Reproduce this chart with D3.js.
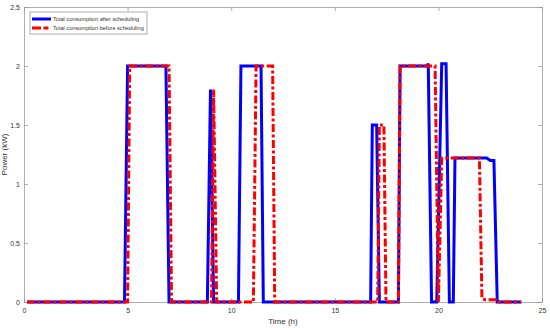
<!DOCTYPE html>
<html>
<head>
<meta charset="utf-8">
<script src="https://cdn.jsdelivr.net/npm/d3@7"></script>
<style>
  body { margin: 0; background: #fff; }
  svg { display: block; }
</style>
</head>
<body>
<div id="chart"></div>
<script>
// values (time in h, power in kW)
var timeAfter  = [0.15, 4.85, 5.0, 6.85, 7.0, 8.85, 9.0, 9.15, 10.35, 10.47, 11.44, 11.55, 16.73, 16.81, 17.02, 17.15, 18.07, 18.15, 19.45, 19.51, 19.67, 19.92, 20.16, 20.37, 20.53, 20.72, 20.8, 22.33, 22.5, 22.68, 22.84, 24.0];
var powerAfter = [0, 0, 2, 2, 0, 0, 1.8, 0, 0, 2, 2, 0, 0, 1.5, 1.5, 0, 0, 2, 2, 2.02, 0, 0, 2.02, 2.02, 0, 0, 1.22, 1.22, 1.2, 1.2, 0, 0];

var timeBefore  = [0.15, 5.0, 5.1, 7.0, 7.12, 9.05, 9.15, 9.3, 11.07, 11.2, 12.0, 12.1, 17.07, 17.15, 17.37, 17.47, 18.07, 18.15, 19.84, 20.0, 20.16, 21.98, 22.1, 22.25, 22.8, 22.9, 24.0];
var powerBefore = [0, 0, 2, 2, 0, 0, 1.8, 0, 0, 2, 2, 0, 0, 1.5, 1.5, 0, 0, 2, 2, 0, 1.22, 1.22, 0.03, 0.02, 0.02, 0, 0];

var xTicks = [0, 5, 10, 15, 20, 25];
var yTicks = [0, 0.5, 1, 1.5, 2, 2.5];

var seriesNames = ["Total consumption after scheduling", "Total consumption before scheduling"];

var width = 550, height = 328;
var plotLeft = 24, plotRight = 542, plotTop = 7, plotBottom = 302;
var axisColor = "#9a9a9a";
var textColor = "#333";

var svg = d3.select("#chart").append("svg")
    .attr("width", width)
    .attr("height", height)
    .style("font-family", "Liberation Sans, Arial, sans-serif");

var x = d3.scaleLinear().domain([0, 25]).range([plotLeft, plotRight]);
var y = d3.scaleLinear().domain([0, 2.5]).range([plotBottom, plotTop]);

//axes with inward ticks, like a boxed matlab plot
var bottomAxis = svg.append("g").attr("transform", "translate(0," + plotBottom + ")")
    .call(d3.axisBottom(x).tickValues(xTicks).tickSize(-4).tickPadding(6).tickFormat(d3.format("d")));
var topAxis = svg.append("g").attr("transform", "translate(0," + plotTop + ")")
    .call(d3.axisTop(x).tickValues(xTicks).tickSize(-4).tickFormat(""));
var leftAxis = svg.append("g").attr("transform", "translate(" + plotLeft + ",0)")
    .call(d3.axisLeft(y).tickValues(yTicks).tickSize(-4).tickPadding(4).tickFormat(function (d) { return d; }));
var rightAxis = svg.append("g").attr("transform", "translate(" + plotRight + ",0)")
    .call(d3.axisRight(y).tickValues(yTicks).tickSize(-4).tickFormat(""));

svg.selectAll(".domain").attr("stroke", axisColor).attr("stroke-width", 0.8);
svg.selectAll(".tick line").attr("stroke", axisColor).attr("stroke-width", 0.8);
svg.selectAll(".tick text").attr("fill", textColor).attr("font-size", "7px")
    .attr("font-family", "Liberation Sans, Arial, sans-serif");

//axis titles
svg.append("text")
    .attr("x", (plotLeft + plotRight) / 2)
    .attr("y", 324)
    .attr("text-anchor", "middle")
    .attr("font-size", "8px")
    .attr("fill", textColor)
    .text("Time (h)");

svg.append("text")
    .attr("transform", "translate(7," + (plotTop + plotBottom) / 2 + ") rotate(-90)")
    .attr("text-anchor", "middle")
    .attr("font-size", "8px")
    .attr("fill", textColor)
    .text("Power (kW)");

//the two lines
var line = d3.line()
    .x(function (d) { return x(d[0]); })
    .y(function (d) { return y(d[1]); });

var afterData = timeAfter.map(function (t, i) { return [t, powerAfter[i]]; });
var beforeData = timeBefore.map(function (t, i) { return [t, powerBefore[i]]; });

svg.append("path")
    .datum(afterData)
    .attr("d", line)
    .attr("fill", "none")
    .attr("stroke", "#0000ff")
    .attr("stroke-width", 3)
    .attr("stroke-linejoin", "miter");

svg.append("path")
    .datum(beforeData)
    .attr("d", line)
    .attr("fill", "none")
    .attr("stroke", "#ff0000")
    .attr("stroke-width", 3)
    .attr("stroke-dasharray", "8,2.5,3,2.5")
    .attr("stroke-linejoin", "miter");

//legend
var legend = svg.append("g");
legend.append("rect")
    .attr("x", 30).attr("y", 12)
    .attr("width", 117).attr("height", 22)
    .attr("fill", "#fff")
    .attr("stroke", axisColor)
    .attr("stroke-width", 0.8);

var legendRows = [
    { "y": 19, "color": "#0000ff", "dash": null, "text": seriesNames[0] },
    { "y": 28, "color": "#ff0000", "dash": "9,2.5,5", "text": seriesNames[1] }
];

legend.selectAll("line")
    .data(legendRows)
    .enter()
    .append("line")
    .attr("x1", 32).attr("x2", 51)
    .attr("y1", function (d) { return d.y; })
    .attr("y2", function (d) { return d.y; })
    .attr("stroke", function (d) { return d.color; })
    .attr("stroke-width", 3)
    .attr("stroke-dasharray", function (d) { return d.dash; });

legend.selectAll("text")
    .data(legendRows)
    .enter()
    .append("text")
    .attr("x", 53)
    .attr("y", function (d) { return d.y + 2; })
    .attr("font-size", "5.6px")
    .attr("fill", textColor)
    .text(function (d) { return d.text; });
</script>
</body>
</html>
